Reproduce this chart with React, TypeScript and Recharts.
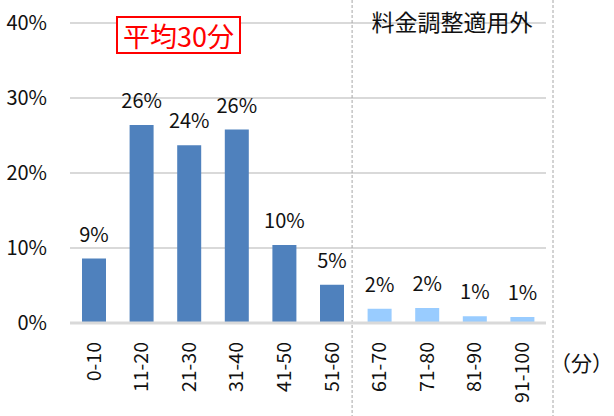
import React from 'react';
import { BarChart, Bar, Cell, XAxis, YAxis, CartesianGrid, LabelList, ReferenceArea, Customized } from 'recharts';

const categories = ['0-10', '11-20', '21-30', '31-40', '41-50', '51-60', '61-70', '71-80', '81-90', '91-100'];
const shares = [8.6, 26.4, 23.7, 25.8, 10.4, 5.1, 1.9, 2.0, 0.9, 0.8];
const yTicks = [0, 10, 20, 30, 40];
// first / last category outside fee adjustment
const bandFrom = '61-70';
const bandTo = '91-100';
const adjustedCount = 6;

const data = categories.map((name, i) => ({ name, value: shares[i] }));

const DARK = '#4f81bd';
const LIGHT = '#99ccff';
const FONT = '"Noto Sans CJK JP", "Noto Sans", sans-serif';

const RotTick = (props: any) => {
    const { x, y, payload } = props;
    return (
        <g transform={`translate(${x},${y})`}>
            <text transform="rotate(-90)" x={-19} y={0} dy="0.35em" textAnchor="end" fontSize={19.5} fill="#111">
                {payload.value}
            </text>
        </g>
    );
};

// dashed separators drawn from the band edges, running the full picture height
const BandLines = (props: any) => {
    const { x, width } = props;
    const left = x - 3.5;
    const right = x + width + 7;
    return (
        <g>
            <line x1={left} x2={left} y1={0} y2={416} stroke="#a6a6a6" strokeWidth={1} strokeDasharray="3 2" />
            <line x1={right} x2={right} y1={0} y2={416} stroke="#a6a6a6" strokeWidth={1} strokeDasharray="3 2" />
        </g>
    );
};

const Notes = () => (
    <g>
        <rect x={117} y={17} width={123} height={36} fill="#fff" stroke="#ff0000" strokeWidth={2} />
        <text x={178.5} y={35} dominantBaseline="central" textAnchor="middle" fontSize={27} fill="#ff0000">平均30分</text>
        <text x={452} y={21} dominantBaseline="central" textAnchor="middle" fontSize={23} fill="#111">料金調整適用外</text>
        <text x={613} y={362} dominantBaseline="central" textAnchor="end" fontSize={21} fill="#111">（分）</text>
    </g>
);

export default function App() {
    return (
        <div style={{ position: 'absolute', left: 0, top: 0, fontFamily: FONT, background: '#fff' }}>
            <BarChart width={614} height={416} data={data} margin={{ top: 23, right: 68, left: 0, bottom: 8 }}>
                <CartesianGrid vertical={false} stroke="#d9d9d9" strokeWidth={2} />
                <XAxis dataKey="name" height={85} interval={0} tickSize={0} tickMargin={0} tick={<RotTick />}
                    axisLine={{ stroke: '#d9d9d9', strokeWidth: 3 }} tickLine={false} />
                <YAxis width={70} domain={[0, 40]} ticks={yTicks} tickFormatter={(v) => `${v}%`}
                    axisLine={false} tickLine={false} tickSize={0} tickMargin={23}
                    tick={{ fontSize: 20, fill: '#111' }} />
                <ReferenceArea x1={bandFrom} x2={bandTo} ifOverflow="visible" shape={<BandLines />} />
                <Bar dataKey="value" barSize={24} isAnimationActive={false}>
                    {data.map((d, i) => (
                        <Cell key={d.name} fill={i < adjustedCount ? DARK : LIGHT} />
                    ))}
                    <LabelList dataKey="value" position="top" offset={17} fontSize={20} fill="#111"
                        formatter={(v: any) => `${Math.round(v)}%`} />
                </Bar>
                <Customized component={<Notes />} />
            </BarChart>
        </div>
    );
}
